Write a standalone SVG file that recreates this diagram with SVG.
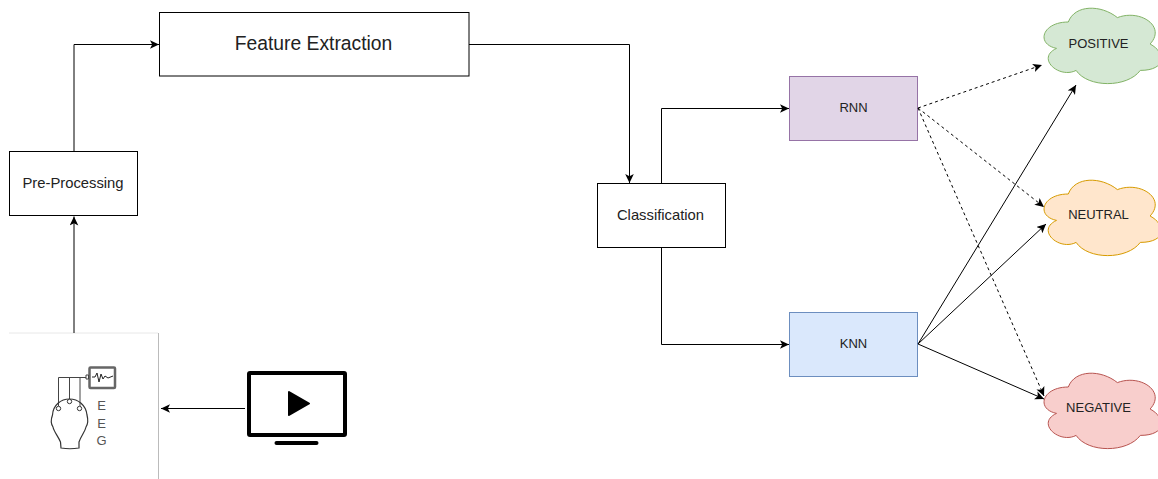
<svg xmlns="http://www.w3.org/2000/svg" width="1158" height="479" viewBox="0 0 1158 479">
<style>
text{font-family:"Liberation Sans",Arial,sans-serif;font-size:13px;fill:#222;text-anchor:middle}
.big{font-size:14.800px}
.eeg{fill:#555;font-size:13px}
.box{stroke:#000;stroke-width:1;fill:#fff}
.c{fill:none;stroke:#000;stroke-width:1;marker-end:url(#a)}
.d{stroke-dasharray:3 3}
</style>
<defs>
<marker id="a" markerUnits="userSpaceOnUse" markerWidth="11" markerHeight="10" refX="9" refY="4.500" orient="auto"><path d="M0 0.200L9 4.500L0 8.800L2.200 4.500Z" fill="#000"/></marker>
<path id="cloud" d="M32.800 22C6.600 22 0 44 21 48.400C0 58.100 23.600 79.200 40.600 70.400C52.400 88 91.700 88 104.800 70.400C131 70.400 131 52.800 114.600 44C131 26.400 104.800 8.800 81.900 17.600C65.500 4.400 39.300 4.400 32.800 22Z"/>
</defs>
<rect width="1158" height="479" fill="#fff"/>
<g id="eeg">
<path d="M9 333H158" fill="none" stroke="#e8e8e8"/>
<path d="M158.500 333V479" fill="none" stroke="#bbb"/>
<rect x="89.500" y="367.500" width="25.500" height="20.500" rx="1" fill="#fff" stroke="#666" stroke-width="2.500"/>
<path d="M92 377H95L97 373L99 382L101 374L103 379L105 376L108 378L113 376" fill="none" stroke="#222"/>
<path d="M86 375h2.500v4H86zM58.500 406V377.500H86M69.500 399V377.500M80 406V377.500" fill="none" stroke="#444"/>
<path d="M61 448Q70 449.500 79 448V442C81 436 85 432 86 427C88 424 88 419 87 415C86 405 78 399 69.500 399C61 399 53 405 52.500 415C51 419 51 424 53 427C54 432 58 436 60.500 442Z" fill="none" stroke="#333" stroke-width="1.200"/>
<circle cx="58.500" cy="408.500" r="2.200" fill="#fff" stroke="#333"/>
<circle cx="69.500" cy="401.500" r="2.200" fill="#fff" stroke="#333"/>
<circle cx="79.500" cy="408.500" r="2.200" fill="#fff" stroke="#333"/>
<text class="eeg" x="101.500" y="409.500">E</text>
<text class="eeg" x="101.500" y="427.500">E</text>
<text class="eeg" x="101.500" y="445">G</text>
</g>
<g id="video">
<rect x="249" y="373" width="96" height="62" rx="1" fill="#fff" stroke="#000" stroke-width="4"/>
<path d="M276.500 443H316.500" stroke="#000" stroke-width="4" stroke-linecap="round"/>
<path d="M289 392L309 403.500L289 415Z" fill="#000" stroke="#000" stroke-width="2" stroke-linejoin="round"/>
</g>
<g id="preprocessing"><rect class="box" x="9.500" y="151.500" width="128" height="64"/><text class="big" x="73" y="188">Pre-Processing</text></g>
<g id="feature"><rect class="box" x="159.500" y="12.500" width="309.500" height="63.500"/><text x="313.500" y="49.500" style="font-size:19.300px">Feature Extraction</text></g>
<g id="classification"><rect class="box" x="597.500" y="183.500" width="128" height="64"/><text class="big" x="660.500" y="220">Classification</text></g>
<g id="rnn"><rect x="789.500" y="76.500" width="128" height="64" fill="#e1d5e7" stroke="#9673a6"/><text x="853.500" y="112">RNN</text></g>
<g id="knn"><rect x="789.500" y="312.500" width="128" height="64" fill="#dae8fc" stroke="#6c8ebf"/><text x="853.500" y="348">KNN</text></g>
<g id="positive"><use href="#cloud" x="1035.500" y="0" fill="#d5e8d4" stroke="#82b366"/><text x="1098.500" y="48">POSITIVE</text></g>
<g id="neutral"><use href="#cloud" x="1035.500" y="172" fill="#ffe6cc" stroke="#d79b00"/><text x="1098.500" y="219">NEUTRAL</text></g>
<g id="negative"><use href="#cloud" x="1035.500" y="365" fill="#f8cecc" stroke="#b85450"/><text x="1098.500" y="412">NEGATIVE</text></g>
<g id="connectors">
<path class="c" d="M74 333V216.500"/>
<path class="c" d="M74 151V44.500H159"/>
<path class="c" d="M469 44.500H629.500V183"/>
<path class="c" d="M661.500 183V108.500H789"/>
<path class="c" d="M661.500 248V344.500H789"/>
<path class="c" d="M245 408.500H161"/>
<path class="c d" d="M918 108L1042 65"/>
<path class="c d" d="M918 108L1044 207"/>
<path class="c d" d="M918 108L1044 396"/>
<path class="c" d="M918 344L1076 85"/>
<path class="c" d="M918 344L1046 224"/>
<path class="c" d="M918 344L1044 399"/>
</g>
</svg>
